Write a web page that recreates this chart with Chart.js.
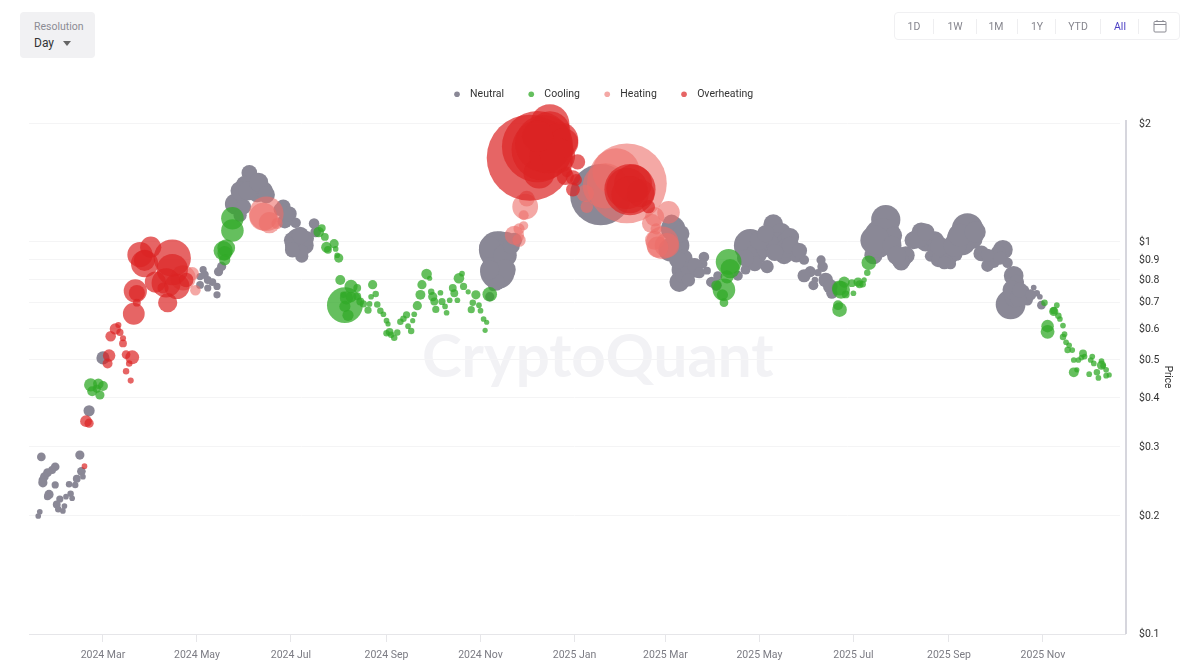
<!DOCTYPE html>
<html>
<head>
<meta charset="utf-8">
<title>Price by temperature</title>
<script src="https://cdn.jsdelivr.net/npm/chart.js@4"></script>
<style>
  body { margin: 0; background: #fff; font-family: Roboto, sans-serif; }
  #wrap { position: relative; width: 1200px; height: 664px; overflow: hidden; }
  canvas { position: absolute; left: 0; top: 0; }
  #watermark { position: absolute; left: 422px; top: 318px; font: 700 60px Lato, sans-serif; color: #f2f2f5; white-space: nowrap; }
  #resolution { position: absolute; left: 20px; top: 12px; width: 75px; height: 46px; background: #f1f1f3; border-radius: 4px; }
  #resolution .cap { position: absolute; left: 14px; top: 8px; font-size: 10.5px; color: #8c8c94; }
  #resolution .val { position: absolute; left: 14px; top: 24px; font-size: 12px; color: #333; }
  #resolution .arrow { position: absolute; left: 43px; top: 29px; width: 0; height: 0; border: 4.5px solid transparent; border-top: 5px solid #666; border-bottom: 0; }
  #ranges { position: absolute; left: 894px; top: 12px; width: 284px; height: 26px; border: 1px solid #f0f0f2; border-radius: 4px; }
  #ranges span { position: absolute; top: 7px; font-size: 10.5px; color: #85858d; transform: translateX(-50%); }
  #ranges i { position: absolute; top: 6px; width: 1px; height: 15px; background: #eeeef0; }
  #ranges svg { position: absolute; left: 258px; top: 6px; }
</style>
</head>
<body>
<div id="wrap">
  <div id="watermark">CryptoQuant</div>
  <canvas id="chart" width="1200" height="664"></canvas>
  <div id="resolution">
    <div class="cap">Resolution</div>
    <div class="val">Day</div>
    <div class="arrow"></div>
  </div>
  <div id="ranges">
    <span style="left:19px">1D</span><i style="left:38px"></i>
    <span style="left:60px">1W</span><i style="left:81px"></i>
    <span style="left:101px">1M</span><i style="left:122px"></i>
    <span style="left:142px">1Y</span><i style="left:160px"></i>
    <span style="left:183px">YTD</span><i style="left:205px"></i>
    <span style="left:225px;color:#4b3fc4">All</span><i style="left:243px"></i>
    <svg width="14" height="14" viewBox="0 0 14 14" fill="none" stroke="#8a8a92" stroke-width="1"><rect x="1" y="2.5" width="12" height="10.5" rx="1"/><path d="M1 5.5h12M4 1v2M10 1v2"/></svg>
  </div>
</div>
<script>
// days since 2024-01-01, price in USD, traded volume (arbitrary units)
const neutralDays = [20,45,29,27,24,22,21,21,29,38,42,43,46,47,25,24,39,36,40,32,30,35,31,34,19,18,51,60,
  125,123,126,128,123,128,134,134,131,135,137,155,152,158,164,160,146,151,177,181,185,178,187,185,191,189,188,197,198,
  149,154,161,166,175,180,149,183,192,183,188,
  311,316,318,316,317,322,313,316,311,321,321,315,311,325,327,383,430,433,428,429,437,434,438,436,443,450,446,452,454,449,445,455,458,459,
  441,437,433,435,440,444,447,
  480,484,491,495,500,497,504,506,508,502,510,515,477,472,489,493,526,527,524,519,515,522,521,529,532,533,
  483,477,486,490,503,506,496,512,
  568,566,573,560,578,564,581,578,591,586,594,600,597,600,602,609,610,614,621,616,624,618,627,630,634,644,641,638,647,
  561,572,575,589,594,603,606,613,616,626,634,642,
  651,653,649,652,658,660,657,664,666,668,669,650,654,655,662];
const neutralPrices = [.283,.286,.267,.262,.258,.252,.247,.243,.24,.241,.24,.249,.26,.252,.227,.224,.228,.224,.222,.221,.214,.212,.208,.206,.205,.2,.371,.506,
  .85,.816,.824,.8,.777,.763,.77,.733,.79,.84,.866,1.5,1.4,1.37,1.35,1.33,1.25,1.23,1.23,1.18,1.12,1.13,1.01,.98,.98,.92,.955,1.115,1.06,
  1.35,1.35,1.42,1.32,1.21,1.17,1.17,1.01,1.02,.955,1.04,
  .725,.955,.97,.84,.87,1.01,.77,.92,.97,.925,.85,.79,.85,.98,1.01,1.32,1.08,.98,.955,1.115,.85,.79,.88,.82,.88,.915,.84,.845,.79,.88,.835,.79,.775,.82,
  .855,.91,.9,1.05,.8,.87,.835,
  .98,.93,.865,1.11,1.05,.995,1,1.03,.955,.925,.925,.9,.85,.82,.955,.995,.9,.865,.835,.84,.82,.8,.775,.8,.77,.74,
  .88,.91,1.01,1.05,.965,.98,.94,.95,
  1.14,1.03,1.04,.925,.91,.97,.925,.89,1.06,1.01,1,1.01,.92,.955,.9,.925,.88,.925,1.08,1.02,1.02,.995,1.05,.935,.87,.955,.935,.89,.885,
  1.01,.98,.925,1.02,1.06,.975,.885,.98,1.04,1.06,.925,.91,
  .82,.79,.693,.725,.755,.71,.733,.765,.74,.725,.69,.755,.72,.755,.733];
const neutralVolumes = [14,16,14,11,14,14,14,16,9,7,7,11,14,5,16,9,7,5,5,9,11,5,7,5,5,5,25,36,
  9,9,12,11,11,9,9,9,11,16,16,53,69,72,81,69,100,53,45,45,22,45,137,100,69,36,49,22,22,
  81,81,81,64,36,36,36,64,49,49,64,
  16,324,225,280,177,64,16,225,100,121,100,64,81,64,49,900,137,121,121,69,137,86,69,45,22,22,16,11,11,20,19,22,25,16,
  81,64,64,64,36,49,25,
  246,100,36,86,100,100,100,69,69,69,45,19,19,19,49,64,16,22,9,25,36,7,19,45,45,25,
  49,64,81,64,81,64,64,49,
  196,324,64,72,100,100,69,64,81,69,81,69,25,53,45,81,25,25,225,151,100,137,49,53,32,86,53,32,22,
  196,81,81,81,64,81,36,121,121,100,36,36,
  86,45,204,100,16,22,22,5,7,5,14,81,64,49,25];

const coolingDays = [52,57,60,53,58,56,144,144,138,140,139,139,200,202,204,205,210,206,211,212,213,214,217,221,225,216,218,221,219,217,225,227,229,232,
  235,237,234,233,238,240,242,244,245,246,244,247,249,251,253,255,257,258,260,261,262,264,266,267,270,272,273,274,275,276,279,280,282,283,285,287,288,290,291,293,294,297,
  302,300,304,299,305,307,309,308,311,466,467,465,463,462,463,458,538,537,539,538,542,541,546,550,551,553,554,547,556,557,
  671,679,677,677,680,681,683,673,673,684,683,685,687,686,689,696,697,702,690,693,695,701,703,708,708,709,711,690,692,700,705,706,711,713];
const coolingPrices = [.432,.435,.429,.416,.407,.422,1.15,1.07,.95,.965,.935,.9,1.06,1.085,1.03,.97,.99,.955,.96,.925,.91,.8,.69,.77,.763,.733,.72,.724,.65,.685,.727,.705,.695,.67,
  .778,.737,.725,.695,.693,.668,.654,.63,.618,.59,.585,.58,.57,.588,.626,.637,.652,.61,.593,.63,.654,.688,.733,.778,.828,.808,.746,.725,.705,.673,.742,.705,.685,.66,.71,.763,.74,.71,.808,.83,.77,.746,
  .733,.7,.69,.672,.668,.636,.624,.595,.735,.89,.855,.815,.755,.733,.7,.775,.672,.69,.755,.763,.735,.79,.785,.79,.78,.78,.8,.74,.835,.885,
  .7,.69,.665,.668,.648,.636,.612,.61,.59,.582,.572,.555,.545,.53,.53,.52,.51,.51,.5,.5,.507,.5,.49,.497,.485,.483,.472,.465,.472,.46,.465,.45,.456,.458];
const coolingVolumes = [36,22,19,19,16,12,114,114,81,69,45,25,22,11,11,22,16,11,5,5,16,19,300,36,11,7,36,22,25,25,11,11,9,9,
  16,7,5,5,7,7,5,5,4,11,7,7,7,7,7,7,9,5,7,4,5,16,19,16,22,4,7,16,11,9,5,9,5,5,5,11,11,5,22,5,9,4,
  16,7,5,9,5,5,4,4,45,151,81,36,114,25,14,19,45,19,69,49,11,25,11,16,11,7,4,5,7,45,
  7,5,16,9,7,5,5,32,40,5,7,5,5,7,5,11,5,5,5,5,5,5,5,5,16,5,5,19,4,5,7,5,5,4];

const heatingDays = [118,120,112,166,168,173,164,327,330,330,333,334,333,335,400,393,373,374,386,427,418,416,423,426,418,420,419];
const heatingPrices = [.83,.753,.81,1.18,1.12,1.115,1.16,1.04,1.01,1.08,1.1,1.23,1.17,1.29,1.41,1.51,1.33,1.23,1.39,1.19,1.16,1.115,.995,.98,1.01,.97,1.08];
const heatingVolumes = [36,22,144,279,100,25,177,81,36,25,16,151,20,53,1544,529,64,32,484,114,81,81,246,137,81,100,25];

const overheatingDays = [49,51,48,64,63,79,75,77,75,78,65,68,70,71,73,73,80,81,82,82,91,84,87,87,105,105,101,108,102,94,99,114,
  337,342,345,346,350,350,357,343,359,348,355,342,368,360,365,361,367,365,402,400,404,402,409,414];
const overheatingPrices = [.349,.345,.268,.513,.49,.508,.516,.49,.468,.443,.575,.6,.614,.588,.568,.551,.656,.75,.741,.7,.97,.928,.88,.898,.91,.85,.786,.77,.7,.79,.763,.8,
  1.64,1.75,1.72,1.78,2,1.91,1.82,1.5,1.79,1.66,1.66,1.86,1.6,1.47,1.46,1.51,1.44,1.36,1.36,1.37,1.41,1.32,1.33,1.23];
const overheatingVolumes = [28,16,5,32,19,40,14,7,7,6,22,25,6,9,6,11,106,121,56,11,100,144,169,100,324,225,196,144,81,100,25,45,
  1806,1225,900,784,361,400,289,225,196,289,289,225,49,64,45,22,28,40,625,400,335,324,169,36];

const xTickDays = [60,121,182,244,305,366,425,486,547,609,670];
const xTickLabels = ['2024 Mar','2024 May','2024 Jul','2024 Sep','2024 Nov','2025 Jan','2025 Mar','2025 May','2025 Jul','2025 Sep','2025 Nov'];
const yTickValues = [2,1,0.9,0.8,0.7,0.6,0.5,0.4,0.3,0.2,0.1];

function points(days, prices, volumes) {
  return days.map(function(d, i) {
    // small offset so the quiet days stay visible
    return { x: d, y: prices[i], r: Math.sqrt(volumes[i]) + 0.6 };
  });
}

function series(label, order, color, days, prices, volumes) {
  return {
    label: label,
    order: order,
    data: points(days, prices, volumes),
    backgroundColor: color,
    borderWidth: 0,
    clip: false
  };
}

// keeps the gap under the legend, and the y axis line a bit right of the grid
const layoutTweaks = {
  id: 'layoutTweaks',
  beforeLayout: function(chart) {
    if (chart.legend.tallFit) return;
    const fit = chart.legend.fit;
    chart.legend.fit = function() {
      fit.call(this);
      this.height = 53;
    };
    chart.legend.tallFit = true;
  },
  afterDraw: function(chart) {
    const a = chart.chartArea, ctx = chart.ctx;
    ctx.save();
    ctx.strokeStyle = '#d6d6dd';
    ctx.lineWidth = 2;
    ctx.beginPath();
    ctx.moveTo(a.right + 6, a.top);
    ctx.lineTo(a.right + 6, a.bottom);
    ctx.stroke();
    ctx.strokeStyle = '#e6e6e9';
    ctx.lineWidth = 1;
    ctx.beginPath();
    ctx.moveTo(a.right, a.bottom + 0.5);
    ctx.lineTo(a.right + 6, a.bottom + 0.5);
    ctx.stroke();
    ctx.restore();
  }
};

Chart.defaults.font.family = 'Roboto, sans-serif';

new Chart(document.getElementById('chart').getContext('2d'), {
  type: 'bubble',
  data: {
    datasets: [
      series('Neutral', 4, 'rgb(138,136,150)', neutralDays, neutralPrices, neutralVolumes),
      series('Cooling', 3, 'rgba(50,170,40,0.75)', coolingDays, coolingPrices, coolingVolumes),
      series('Heating', 2, 'rgba(236,110,105,0.6)', heatingDays, heatingPrices, heatingVolumes),
      series('Overheating', 1, 'rgba(220,35,35,0.7)', overheatingDays, overheatingPrices, overheatingVolumes)
    ]
  },
  options: {
    responsive: false,
    animation: false,
    layout: { autoPadding: false, padding: { top: 67, left: 29, right: 24 } },
    plugins: {
      tooltip: { enabled: false },
      legend: {
        position: 'top',
        reverse: true,
        labels: {
          usePointStyle: true,
          pointStyle: 'circle',
          boxWidth: 11,
          boxHeight: 4,
          padding: 22,
          color: '#333',
          font: { size: 10.5 },
          generateLabels: function(chart) {
            return Chart.defaults.plugins.legend.labels.generateLabels(chart).map(function(item) {
              item.text = ' ' + item.text;
              return item;
            });
          }
        }
      }
    },
    scales: {
      x: {
        type: 'linear',
        min: 12,
        max: 720,
        afterBuildTicks: function(scale) {
          scale.ticks = xTickDays.map(function(v) { return { value: v }; });
        },
        afterFit: function(scale) { scale.height = 30; },
        ticks: {
          autoSkip: false,
          maxRotation: 0,
          padding: 7,
          color: '#7b7b83',
          font: { size: 10.5 },
          callback: function(value) { return xTickLabels[xTickDays.indexOf(value)]; }
        },
        grid: { drawOnChartArea: false, tickLength: 8, color: '#e6e6e9' },
        border: { color: '#e6e6e9' }
      },
      y: {
        type: 'logarithmic',
        position: 'right',
        min: 0.1,
        max: 2.047,
        afterBuildTicks: function(scale) {
          scale.ticks = yTickValues.map(function(v) { return { value: v }; });
        },
        afterFit: function(scale) { scale.width = 56; },
        ticks: {
          autoSkip: false,
          padding: 19,
          color: '#333',
          font: { size: 10.5 },
          callback: function(value) { return '$' + value; }
        },
        grid: { drawTicks: false, color: '#f4f4f5' },
        border: { display: false },
        title: { display: true, text: 'Price', color: '#333', font: { size: 10 }, padding: { top: 3, bottom: 0 } }
      }
    }
  },
  plugins: [layoutTweaks]
});
</script>
</body>
</html>
